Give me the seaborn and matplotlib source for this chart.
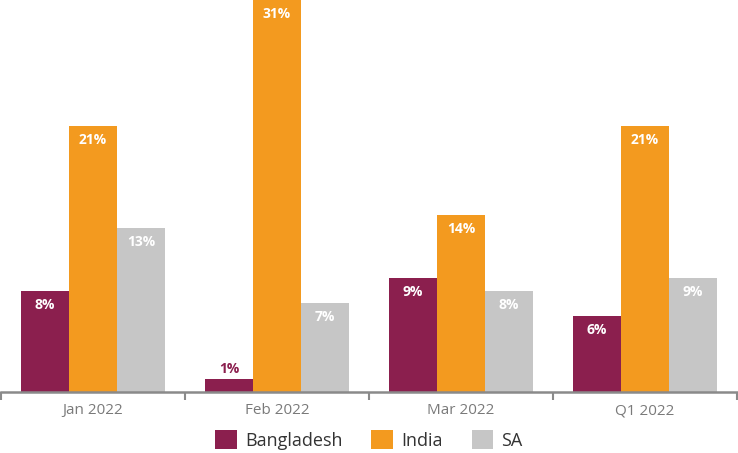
import pandas as pd
import matplotlib.pyplot as plt
import seaborn as sns

# Data
periods = ['Jan 2022', 'Feb 2022', 'Mar 2022', 'Q1 2022']
bangladesh = [8, 1, 9, 6]
india = [21, 31, 14, 21]
sa = [13, 7, 8, 9]
series = ['Bangladesh', 'India', 'SA']
colors = ['#8B1F4E', '#F39A1F', '#C6C6C6']

df = pd.DataFrame({
    'period': periods * 3,
    'value': bangladesh + india + sa,
    'country': [s for s in series for _ in periods],
})

sns.set_theme(style="white")
plt.rcParams['font.family'] = ['Open Sans', 'DejaVu Sans']

fig = plt.figure(figsize=(7.38, 4.53), dpi=100)
ax = fig.add_axes([1 / 738, 61 / 453, 736 / 738, 392 / 453])

sns.barplot(data=df, x='period', y='value', hue='country', palette=colors,
            width=0.78, saturation=1, ax=ax, legend=False, gap=0, linewidth=0)

ax.set_ylim(0, 31)
ax.set_xlim(-0.5, 3.5)
ax.set_xlabel('')
ax.set_ylabel('')
ax.set_yticks([])

for side in ['top', 'right', 'left']:
    ax.spines[side].set_visible(False)
ax.spines['bottom'].set_color('#8A8A8A')
ax.spines['bottom'].set_linewidth(1.8)

ax.set_xticks(range(len(periods)))
ax.set_xticklabels(periods, fontsize=11, color='#7A7A7A')
ax.tick_params(axis='x', which='major', length=0, pad=8)
ax.set_xticks([-0.5, 0.5, 1.5, 2.5, 3.5], minor=True)
ax.tick_params(axis='x', which='minor', bottom=True, length=6, width=1.5, color='#8A8A8A')

# value labels
for container, col in zip(ax.containers, colors):
    for bar in container:
        h = bar.get_height()
        cx = bar.get_x() + bar.get_width() / 2
        if h < 3:
            ax.text(cx, h + 0.3, f'{h:.0f}%', ha='center', va='bottom',
                    fontsize=10, fontweight='bold', color=col)
        else:
            ax.text(cx, h - 0.55, f'{h:.0f}%', ha='center', va='top',
                    fontsize=10, fontweight='bold', color='white')

handles = [plt.Rectangle((0, 0), 1, 1, facecolor=c, edgecolor='none') for c in colors]
fig.legend(handles, series, loc='center', bbox_to_anchor=(0.5, 13 / 453), ncol=3,
           frameon=False, fontsize=13, handlelength=1.2, handleheight=1.2,
           handletextpad=0.45, columnspacing=1.6, labelcolor='#333333')

fig.savefig('out.png', dpi=100)
